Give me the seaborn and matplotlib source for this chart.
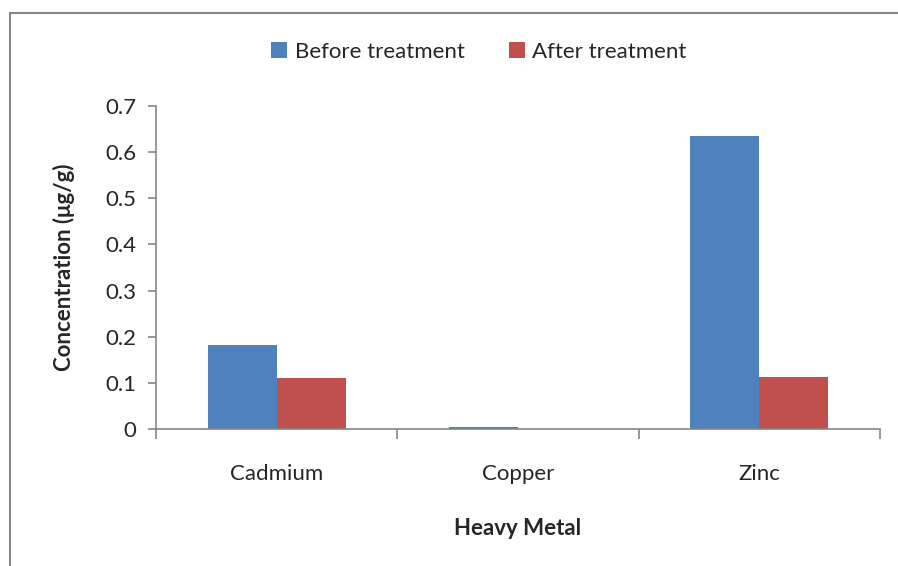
import matplotlib
matplotlib.use("Agg")
import matplotlib.pyplot as plt
import seaborn as sns
import pandas as pd
from matplotlib.patches import Rectangle

metals = ["Cadmium", "Copper", "Zinc"]
before = [0.182, 0.004, 0.635]
after = [0.110, 0.0, 0.112]
series = ["Before treatment", "After treatment"]
yticks = [0, 0.1, 0.2, 0.3, 0.4, 0.5, 0.6, 0.7]
ytick_labels = ["0", "0.1", "0.2", "0.3", "0.4", "0.5", "0.6", "0.7"]

df = pd.DataFrame({
    "metal": metals * 2,
    "value": before + after,
    "series": [series[0]] * 3 + [series[1]] * 3,
})

sns.set_style("white")
plt.rcParams["font.family"] = ["Lato", "DejaVu Sans"]

fig = plt.figure(figsize=(8.98, 5.66), dpi=100)
ax = fig.add_axes([156 / 898, 1 - 429 / 566, (880 - 156) / 898, (429 - 106) / 566])

sns.barplot(data=df, x="metal", y="value", hue="series", hue_order=series,
            palette=["#4F81BD", "#C0504D"], saturation=1, width=0.573, ax=ax,
            edgecolor="none", linewidth=0, legend=True)

ax.set_xlim(-0.5, 2.5)
ax.set_ylim(0, 0.7)
ax.set_yticks(yticks)
ax.set_yticklabels(ytick_labels)

gray = "#868686"
for s in ["top", "right"]:
    ax.spines[s].set_visible(False)
for s in ["left", "bottom"]:
    ax.spines[s].set_color(gray)
    ax.spines[s].set_linewidth(1.2)

ax.tick_params(axis="y", which="major", left=True, length=6, width=1.2, color=gray,
               labelsize=16, pad=8, direction="out")
ax.tick_params(axis="x", which="major", bottom=False, labelsize=16, pad=22)
ax.set_xticks([-0.5, 0.5, 1.5, 2.5], minor=True)
ax.tick_params(axis="x", which="minor", bottom=True, length=7, width=1.2, color=gray,
               direction="out")

ax.set_xlabel("Heavy Metal", fontsize=16, fontweight="bold", labelpad=24)
ax.set_ylabel("Concentration (μg/g)", fontsize=16, fontweight="bold", labelpad=22)

leg = ax.legend(loc="center", bbox_to_anchor=(479 / 898, 1 - 52 / 566),
                bbox_transform=fig.transFigure, ncol=2, frameon=False,
                fontsize=16, handlelength=0.7, handleheight=0.7,
                handletextpad=0.35, columnspacing=2.0)

fig.patches.append(Rectangle((10 / 898, -0.1), 1.2, 1.1 - 13 / 566,
                             transform=fig.transFigure, fill=False,
                             edgecolor=gray, linewidth=1.5, zorder=0))

fig.savefig("out.png", dpi=100)
